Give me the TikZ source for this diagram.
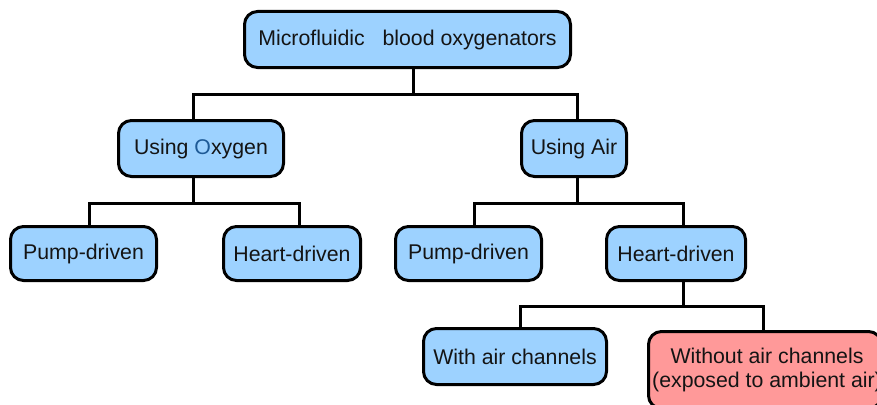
\documentclass[tikz,border=0pt]{standalone}
\usepackage{fontspec}
\setmainfont{Liberation Sans}
\definecolor{boxblue}{RGB}{157,210,255}
\definecolor{boxred}{RGB}{255,153,153}
\definecolor{oblue}{RGB}{30,90,150}
\begin{document}
\begin{tikzpicture}[x=1pt,y=-1pt,
  every node/.style={font=\fontsize{21.3}{24}\selectfont, text=black!92},
  tbox/.style={draw=black, line width=3pt, rounded corners=13pt, fill=boxblue,
    inner sep=0pt, align=center},
  rbox/.style={tbox, fill=boxred},
  conn/.style={draw=black, line width=3pt}]
\useasboundingbox (0,0) rectangle (877,404);
\begin{scope}
\clip (0,0) rectangle (877,404);
\node[tbox, minimum width=326pt, minimum height=56pt] (top) at (407.5,39.5) {Microfluidic\ \ \ blood oxygenators};
\node[tbox, minimum width=165pt, minimum height=56pt] (uo) at (201,148.5) {Using {\color{oblue}O}xygen};
\node[tbox, minimum width=105pt, minimum height=56pt] (ua) at (574,148.5) {Using Air};
\node[tbox, minimum width=146pt, minimum height=54pt] (pl) at (83.5,253.5) {Pump-driven};
\node[tbox, minimum width=137pt, minimum height=54pt] (hl) at (292,253.5) {Heart-driven};
\node[tbox, minimum width=146pt, minimum height=54pt] (pr) at (468.5,253.5) {Pump-driven};
\node[tbox, minimum width=139pt, minimum height=54pt] (hr) at (676,253.5) {Heart-driven};
\node[tbox, minimum width=183pt, minimum height=56pt] (wa) at (515,356.5) {With air channels};
\node[rbox, minimum width=233pt, minimum height=77pt] (na) at (765,370) {};
\node[align=center, inner sep=0pt] (nat) at (767,370) {Without air channels\\(exposed to ambient air)};

\draw[conn] ([xshift=5.5pt]top.south) -- ++(0,25) coordinate (j1);
\draw[conn] ([xshift=-8pt]uo.north) |- (j1) -| ([xshift=3pt]ua.north);

\draw[conn] ([xshift=-8pt]uo.south) -- ++(0,25) coordinate (j2);
\draw[conn] ([xshift=5.5pt]pl.north) |- (j2) -| ([xshift=7pt]hl.north);

\draw[conn] ([xshift=3pt]ua.south) -- ++(0,25) coordinate (j3);
\draw[conn] ([xshift=5.5pt]pr.north) |- (j3) -| ([xshift=7pt]hr.north);

\draw[conn] ([xshift=7pt]hr.south) -- ++(0,24) coordinate (j4);
\draw[conn] ([xshift=5pt]wa.north) |- (j4) -| ([xshift=-2pt]na.north);
\end{scope}
\end{tikzpicture}
\end{document}
